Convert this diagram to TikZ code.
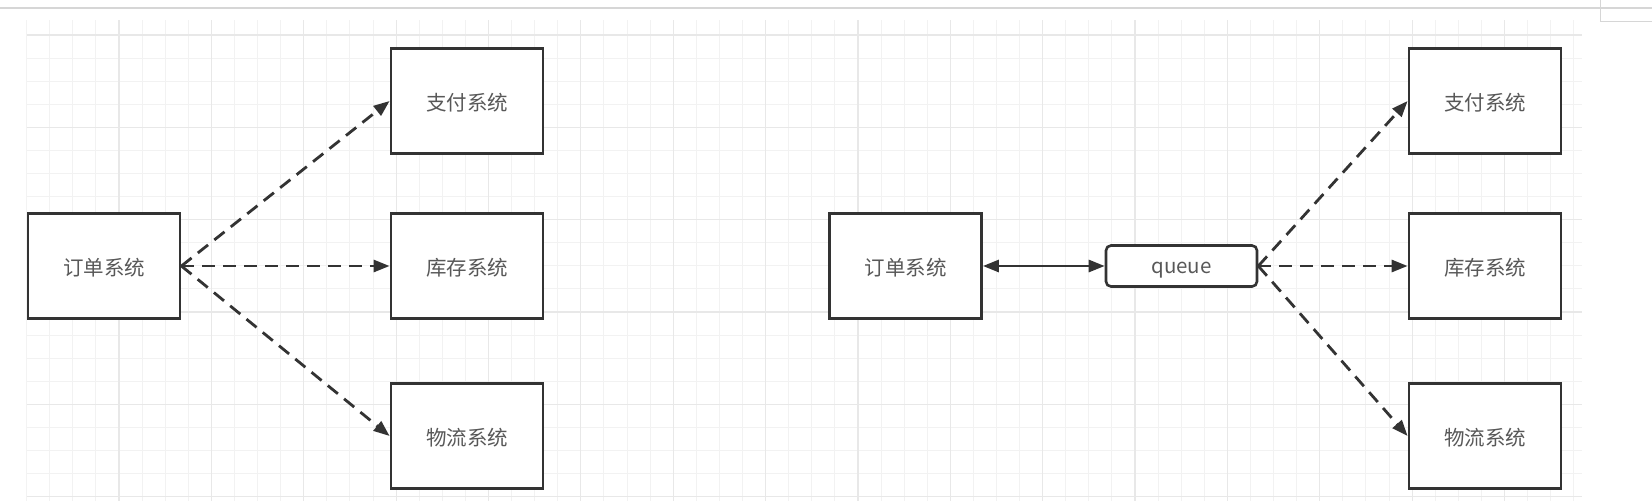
\documentclass[tikz,border=0pt]{standalone}
\usepackage{fontspec}
\setmainfont{Noto Sans CJK SC}
\usetikzlibrary{arrows.meta}
\definecolor{edgec}{HTML}{333333}
\definecolor{textc}{HTML}{585858}
\definecolor{gridminor}{HTML}{F2F2F2}
\definecolor{gridmajor}{HTML}{E8E8E8}
\definecolor{topline}{HTML}{D6D6D6}
\tikzset{
  sysbox/.style={draw=edgec, line width=2.8pt, fill=white, minimum width=152pt, minimum height=105pt, inner sep=0pt, text=textc, text height=20.5pt, font=\fontsize{20.5}{20.5}\selectfont},
  queuebox/.style={draw=edgec, line width=2.6pt, fill=white, rounded corners=5pt, minimum width=151pt, minimum height=41pt, inner sep=0pt, text=textc, text height=18.5pt, text depth=4.2pt, font=\fontsize{20.5}{20.5}\selectfont},
  tip/.tip={Triangle[length=16pt,width=12pt]},
  dasharrow/.style={draw=edgec, line width=2.8pt, dash pattern=on 13pt off 8pt, -{tip}},
  bothaway/.style={draw=edgec, line width=2.8pt, {tip}-{tip}},
  gminor/.style={draw=gridminor, line width=1pt},
  gmajor/.style={draw=gridmajor, line width=1.2pt}
}
\begin{document}
\begin{tikzpicture}[x=1pt,y=-1pt]
\useasboundingbox (0,0) rectangle (1652,501);
\fill[white] (0,0) rectangle (1652,501);
% background grid
\begin{scope}
\clip (26.7,20) rectangle (1582,501);
\foreach \i in {0,...,68} { \draw[gminor] ({26.7+23.09*\i},20) -- ({26.7+23.09*\i},501); }
\foreach \j in {-1,...,20} { \draw[gminor] (26.7,{35+23.09*\j}) -- (1582,{35+23.09*\j}); }
\foreach \i in {0,4,...,68} { \draw[gmajor] ({26.7+23.09*\i},20) -- ({26.7+23.09*\i},501); }
\foreach \j in {0,4,...,20} { \draw[gmajor] (26.7,{35+23.09*\j}) -- (1582,{35+23.09*\j}); }
\end{scope}
% window frame lines
\draw[topline, line width=2pt] (0,7.5) -- (1652,7.5);
\draw[topline, line width=1pt] (1600,0) -- (1600,21.5) -- (1652,21.5);
% left diagram
\node[sysbox] (o1) at (104,266) {订单系统};
\node[sysbox] (p1) at (467,101) {支付系统};
\node[sysbox] (s1) at (467,266) {库存系统};
\node[sysbox] (l1) at (467,436) {物流系统};
\draw[dasharrow] (o1.east) -- (p1.west);
\draw[dasharrow] (o1.east) -- (s1.west);
\draw[dasharrow] (o1.east) -- (l1.west);
% right diagram
\node[sysbox] (o2) at (905.5,266) {订单系统};
\node[queuebox] (q) at (1181.5,266) {queue};
\node[sysbox] (p2) at (1485,101) {支付系统};
\node[sysbox] (s2) at (1485,266) {库存系统};
\node[sysbox] (l2) at (1485,436) {物流系统};
\draw[bothaway] (o2.east) -- (q.west);
\draw[dasharrow] (q.east) -- (p2.west);
\draw[dasharrow] (q.east) -- (s2.west);
\draw[dasharrow] (q.east) -- (l2.west);
\end{tikzpicture}
\end{document}
